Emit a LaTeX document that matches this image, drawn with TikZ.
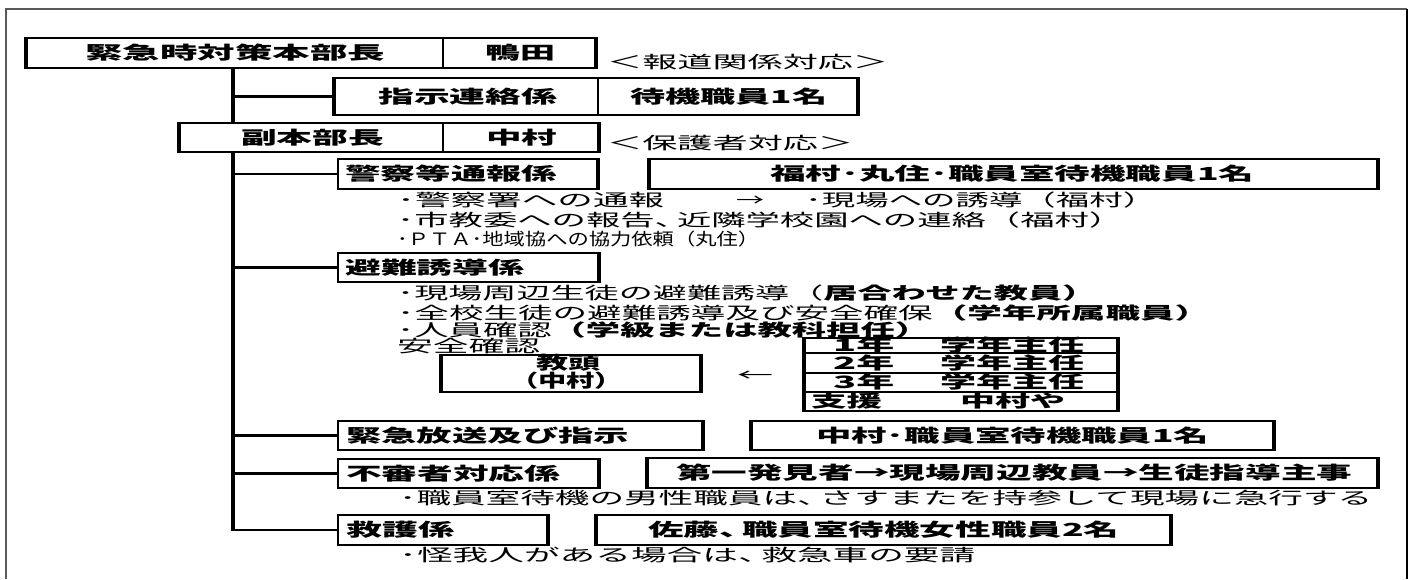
\documentclass[tikz,border=0pt]{standalone}
\usepackage{fontspec}
\usepackage{graphicx}
\usetikzlibrary{fit}
\newfontfamily\jp{Noto Sans CJK JP}
\newcommand\fw[2]{\resizebox{#1pt}{\height}{#2}}
\newcommand\md{･}
\newcommand\tk{、\kern-0.35em}
\tikzset{
  txt/.style={inner sep=0pt, anchor=west, text height=15pt, text depth=2pt, font=\jp\fontsize{17}{17}\selectfont},
  btxt/.style={txt, text height=15.5pt, font=\jp\bfseries\fontsize{18}{18}\selectfont},
  ttxt/.style={txt, text height=14.5pt, font=\jp\bfseries\fontsize{17}{17}\selectfont},
  glyph/.style={inner sep=0pt, anchor=west, text height=15pt, text depth=2pt, font=\jp\fontsize{17}{17}\selectfont},
  cell/.style={draw, line width=2pt, inner sep=0pt},
  thk/.style={line width=4.5pt},
  med/.style={line width=3.5pt},
  trunk/.style={line width=4.5pt},
  link/.style={line width=2.2pt},
  rowline/.style={line width=1.5pt},
}
\begin{document}
\begin{tikzpicture}[x=1pt,y=-1pt]
\useasboundingbox (0,0) rectangle (1412,579);
% outer frame
\draw[line width=2pt, black!65] (6,579) -- (6,9) -- (1407,9);
\draw[line width=1.3pt] (1407,9) -- (1407,579);

% ---- boxes ----
\node[cell, fit={(27,38) (443,68)}] (honbu) {};
\node[cell, fit={(443,38) (595,68)}] (kamoda) {};
\draw[thk] (honbu.north west) -- (honbu.south west);
\draw[thk] (kamoda.north east) -- (kamoda.south east);

\node[cell, fit={(335,78) (598,115)}] (shiji) {};
\node[cell, fit={(598,78) (857,115)}] (taiki) {};
\draw[thk] (shiji.north west) -- (shiji.south west);
\draw[thk] (taiki.north east) -- (taiki.south east);

\node[cell, fit={(180,123) (443,152)}] (fuku) {};
\node[cell, fit={(443,123) (598,152)}] (naka) {};
\draw[thk] (fuku.north west) -- (fuku.south west);
\draw[thk] (naka.north east) -- (naka.south east);

\node[cell, fit={(338,159) (597,189)}] (keisatsu) {};
\draw[med] (keisatsu.north east) -- (keisatsu.south east);
\node[cell, fit={(650,159) (1377,189)}] (fukumura) {};
\draw[thk] (fukumura.north west) -- (fukumura.south west);
\draw[thk] (fukumura.north east) -- (fukumura.south east);

\node[cell, fit={(338,253) (598,282)}] (hinan) {};
\draw[med] (hinan.north east) -- (hinan.south east);

\node[cell, fit={(442,355) (700,392)}] (kyoto) {};
\draw[thk] (kyoto.north west) -- (kyoto.south west);
\draw[thk] (kyoto.north east) -- (kyoto.south east);

\node[cell, fit={(805,338) (1117,411)}] (tbl) {};
\draw[thk] (tbl.north west) -- (tbl.south west);
\draw[thk] (tbl.north east) -- (tbl.south east);
\coordinate (r1) at (805,353); \coordinate (r2) at (805,373); \coordinate (r3) at (805,392);
\draw[rowline] (r1) -- (r1 -| tbl.east);
\draw[rowline] (r2) -- (r2 -| tbl.east);
\draw[rowline] (r3) -- (r3 -| tbl.east);

\node[cell, fit={(338,421) (702,450)}] (kinkyu) {};
\draw[med] (kinkyu.north east) -- (kinkyu.south east);
\node[cell, fit={(752,421) (1273,450)}] (naka2) {};
\draw[thk] (naka2.north west) -- (naka2.south west);
\draw[thk] (naka2.north east) -- (naka2.south east);

\node[cell, fit={(338,459) (598,488)}] (fushin) {};
\draw[med] (fushin.north east) -- (fushin.south east);
\node[cell, fit={(648,458) (1377,488)}] (daiichi) {};
\draw[thk] (daiichi.north west) -- (daiichi.south west);
\draw[thk] (daiichi.north east) -- (daiichi.south east);

\node[cell, fit={(338,515) (547,545)}] (kyugo) {};
\draw[med] (kyugo.north east) -- (kyugo.south east);
\node[cell, fit={(597,515) (1170,545)}] (sato) {};
\draw[thk] (sato.north west) -- (sato.south west);
\draw[thk] (sato.north east) -- (sato.south east);

% ---- connectors ----
\coordinate (t0) at (233,68);
\coordinate (t1) at (233,123);
\coordinate (t2) at (233,152);
\coordinate (t3) at (233,531);
\draw[trunk] (t0) -- (t1);
\draw[trunk] (t2) -- (t3);
\draw[link] (t0 |- shiji.west) -- (shiji.west);
\draw[link] (t2 |- keisatsu.west) -- (keisatsu.west);
\draw[link] (t2 |- hinan.west) -- (hinan.west);
\draw[link] (t2 |- kinkyu.west) -- (kinkyu.west);
\draw[link] (t2 |- fushin.west) -- (fushin.west);
\draw[link] (t2 |- kyugo.west) -- (kyugo.west);

% ---- texts ----
\node[btxt] (honbuT) at (85,53) {\fw{300}{緊急時対策本部長}};
\node[btxt] (kamodaT) at (485,53) {\fw{70}{鴨田}};
\node[txt] (hodoT) at (607,62) {\fw{281}{＜報道関係対応＞}};
\node[btxt] (shijiT) at (378,96.5) {\fw{179}{指示連絡係}};
\node[btxt] (taikiT) at (630,96.5) {\fw{197}{待機職員1名}};
\node[btxt] (fukuT) at (241,138) {\fw{143}{副本部長}};
\node[btxt] (nakaT) at (486,138) {\fw{71}{中村}};
\node[txt] (hogoT) at (607,143) {\fw{246}{＜保護者対応＞}};
\node[btxt] (keisatsuT) at (345,174) {\fw{212}{警察等通報係}};
\node[btxt] (fukumuraT) at (770,174) {\fw{484}{福村\md 丸住\md 職員室待機職員1名}};
\node[txt] (l1a) at (397,200) {\fw{267}{\md 警察署への通報}};
\node[glyph] (ar1) at (736,200) {\fw{28}{→}};
\node[txt] (l1b) at (805,200) {\fw{351}{\md 現場への誘導（福村）}};
\node[txt] (l2) at (397,220) {\fw{726}{\md 市教委への報告\tk 近隣学校園への連絡（福村）}};
\node[txt] (l3) at (397,239) {\fw{362}{\md ＰＴＡ\md 地域協への協力依頼（丸住）}};
\node[btxt] (hinanT) at (345,267.5) {\fw{179}{避難誘導係}};
\node[txt] (l4) at (397,293) {\fw{699}{\md 現場周辺生徒の避難誘導（{\bfseries 居合わせた教員）}}};
\node[txt] (l5) at (397,313) {\fw{812}{\md 全校生徒の避難誘導及び安全確保{\bfseries （学年所属職員）}}};
\node[txt] (l6) at (397,330) {\fw{532}{\md 人員確認{\bfseries （学級または教科担任）}}};
\node[txt] (anzen) at (397,346) {\fw{143}{安全確認}};
\node[btxt] (kyotoT1) at (536,363) {\fw{64}{教頭}};
\node[btxt] (kyotoT2) at (510,381) {\fw{113}{（中村）}};
\node[glyph] (ar2) at (737,375) {\fw{36}{←}};
\node[ttxt] (g1a) at (833,345.5) {\fw{61}{1年}};
\node[ttxt] (g1b) at (940,345.5) {\fw{144}{学年主任}};
\node[ttxt] (g2a) at (833,363) {\fw{61}{2年}};
\node[ttxt] (g2b) at (940,363) {\fw{144}{学年主任}};
\node[ttxt] (g3a) at (833,382.5) {\fw{61}{3年}};
\node[ttxt] (g3b) at (940,382.5) {\fw{144}{学年主任}};
\node[ttxt] (g4a) at (811,401.5) {\fw{71}{支援}};
\node[ttxt] (g4b) at (960,401.5) {\fw{105}{中村や}};
\node[btxt] (kinkyuT) at (346,435.5) {\fw{283}{緊急放送及び指示}};
\node[btxt] (naka2T) at (816,435.5) {\fw{393}{中村\md 職員室待機職員1名}};
\node[btxt] (fushinT) at (346,473.5) {\fw{214}{不審者対応係}};
\node[btxt] (daiichiT) at (676,473) {\fw{676}{第一発見者→現場周辺教員→生徒指導主事}};
\node[txt] (l7) at (399,498) {\fw{973}{\md 職員室待機の男性職員は\tk さすまたを持参して現場に急行する}};
\node[btxt] (kyugoT) at (346,530) {\fw{108}{救護係}};
\node[btxt] (satoT) at (648,530) {\fw{471}{佐藤\tk 職員室待機女性職員2名}};
\node[txt] (l8) at (399,555) {\fw{576}{\md 怪我人がある場合は\tk 救急車の要請}};
\end{tikzpicture}
\end{document}
